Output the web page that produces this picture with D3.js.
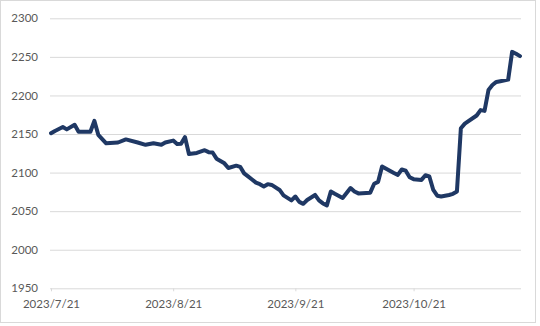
<!DOCTYPE html>
<html>
<head>
<meta charset="utf-8">
<script src="https://cdn.jsdelivr.net/npm/d3@7"></script>
<style>
  html, body { margin: 0; padding: 0; background: #fff; }
  svg { display: block; }
  .tick text { font-family: Lato, "Open Sans", sans-serif; font-size: 11.5px; fill: #595959; }
</style>
</head>
<body>
<div id="chart"></div>
<script>
// values
const DATES = ["2023-07-21","2023-07-22","2023-07-24","2023-07-25","2023-07-27","2023-07-28","2023-07-31",
  "2023-08-01","2023-08-02","2023-08-04","2023-08-07","2023-08-09","2023-08-12","2023-08-14","2023-08-16",
  "2023-08-18","2023-08-19","2023-08-21","2023-08-22","2023-08-23","2023-08-24","2023-08-25","2023-08-27",
  "2023-08-29","2023-08-30","2023-08-31","2023-09-01","2023-09-03","2023-09-04","2023-09-06","2023-09-07",
  "2023-09-08","2023-09-09","2023-09-10","2023-09-11","2023-09-12","2023-09-13","2023-09-14","2023-09-15",
  "2023-09-17","2023-09-18","2023-09-20","2023-09-21","2023-09-22","2023-09-23","2023-09-24","2023-09-26",
  "2023-09-27","2023-09-28","2023-09-29","2023-09-30","2023-10-01","2023-10-03","2023-10-05","2023-10-06",
  "2023-10-07","2023-10-10","2023-10-11","2023-10-12","2023-10-13","2023-10-16","2023-10-17","2023-10-18",
  "2023-10-19","2023-10-20","2023-10-21","2023-10-23","2023-10-24","2023-10-25","2023-10-26","2023-10-27",
  "2023-10-28","2023-10-30","2023-10-31","2023-11-01","2023-11-02","2023-11-03","2023-11-06","2023-11-07",
  "2023-11-08","2023-11-09","2023-11-10","2023-11-11","2023-11-12","2023-11-14","2023-11-15","2023-11-16",
  "2023-11-17"];
const VALUES = [2151,2154,2159,2156,2162,2153,2153,
  2167,2149,2138,2139,2143,2139,2136,2138,
  2136,2139,2141.5,2137,2137.5,2146,2124,2125.5,
  2129,2126.5,2126,2118,2112,2106,2109,2107.5,
  2099,2095,2091,2087,2085,2082,2085,2084,
  2077.5,2070.5,2064,2069,2062,2059.5,2064.5,2071,
  2064,2060,2057.5,2075.5,2072.5,2067,2080,2075.5,
  2073,2074,2085.5,2088,2108,2099.5,2097,2104,
  2102.5,2094,2091.5,2090.5,2096.5,2095,2077.5,2070,
  2069,2071,2072.5,2075.5,2157.5,2163.5,2174,2181,
  2180,2207,2213.5,2217.5,2218.5,2220.5,2256.5,2254,
  2251];
const Y_TICKS = [1950,2000,2050,2100,2150,2200,2250,2300];
const X_TICKS = ["2023-07-21","2023-08-21","2023-09-21","2023-10-21"];

const W = 540, H = 326;
const parse = d3.timeParse("%Y-%m-%d");
const fmtX = d3.timeFormat("%Y/%-m/%-d");
const data = DATES.map((d,i)=>({date:parse(d), v:VALUES[i]}));

const svg = d3.select("#chart").append("svg").attr("width",W).attr("height",H);

// outer frame
svg.append("rect").attr("x",0.5).attr("y",0.5).attr("width",535).attr("height",322)
  .attr("fill","#fff").attr("stroke","#d9d9d9");

const x = d3.scaleTime().domain([parse("2023-07-21"), parse("2023-11-17")]).range([51,520]);
const y = d3.scaleLinear().domain([1950,2300]).range([288.3,18.3]);

// gridlines + y labels
const gy = svg.append("g").attr("transform","translate(51,0)")
  .call(d3.axisLeft(y).tickValues(Y_TICKS).tickSize(-470).tickPadding(13).tickFormat(d3.format("d")));
gy.select(".domain").remove();
gy.selectAll(".tick line").attr("stroke","#d9d9d9").attr("x1",-1);

// x axis
const gx = svg.append("g").attr("transform","translate(0,288.3)")
  .call(d3.axisBottom(x).tickValues(X_TICKS.map(parse)).tickSize(3).tickPadding(9).tickFormat(fmtX));
gx.select(".domain").remove();
gx.selectAll(".tick line").attr("stroke","#d9d9d9");

// line
const line = d3.line().x(d=>x(d.date)).y(d=>y(d.v));
svg.append("path").datum(data)
  .attr("fill","none").attr("stroke","#1f3864").attr("stroke-width",4)
  .attr("stroke-linejoin","round").attr("stroke-linecap","round")
  .attr("d",line);
</script>
</body>
</html>
